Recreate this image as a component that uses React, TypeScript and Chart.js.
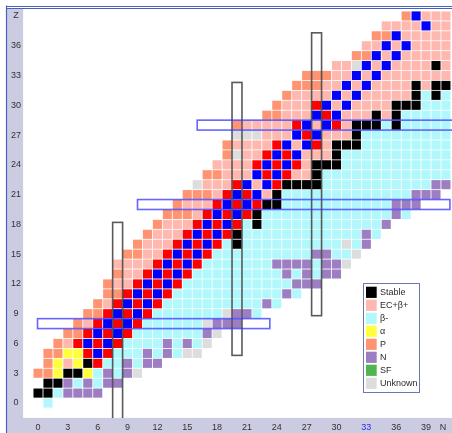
import React, { useEffect, useRef } from "react";
import { Chart, registerables } from "chart.js";

Chart.register(...registerables);

// ---- data ----
// Row index = Z (proton number). ROW_FIRST_N[Z] is the N of the first cell in that row,
// ROW_CODES[Z] holds one decay-mode code per cell, for N = first, first+1, ...
// S stable, E EC+β+, B β-, A α, P proton, N neutron, F SF, U unknown,
// R / L = highlighted (red / blue) cells.
const ROW_FIRST_N = [
  1, 0, 1, 0, 1, 1, 2, 3, 4, 5,
  6, 7, 7, 8, 8, 9, 10, 11, 12, 13,
  14, 15, 16, 17, 18, 19, 19, 20, 20, 23,
  24, 25, 26, 27, 30, 32, 33, 34, 35, 37,
];
const ROW_CODES = [
  "B",
  "SSBNNNN",
  "SSNBNBNN",
  "PPASSABNBNU",
  "PAEASRBBNBNN",
  "PPAARLRBBBNBNBUU",
  "PERLRLRBBBBNBNBU",
  "PPRLRLRBBBBBBBNU",
  "PERLRLRBBBBBBUNNN",
  "PPRLRLRBBBBBBBUNNB",
  "PERLRLRBBBBBBBBBBNB",
  "PPRLRLRBBBBBBBBBBBNB",
  "PEERLRLRBBBBBBBBBBBNNN",
  "PEERLRLRBBBBBBBBBNBNBNN",
  "EEEERLRLRBBBBBBBNNNNBNNU",
  "PPEERLRLRBBBBBBBBBBNNBBU",
  "PEEERLRLRBSBBBBBBBBBBUBN",
  "PEEERLRLRSBBBBBBBBBBBBNB",
  "PEEERLRLRBSBBBBBBBBBBBBN",
  "PPPERLRLRSBBBBBBBBBBBBBNB",
  "PEEERLRLRSSBBBBBBBBBBBNNN",
  "PPPERLRLESBBBBBBBBBBBBBNNN",
  "UEEERLELRSSSSBBBBBBBBBBBNN",
  "PPEEELRLREESBBBBBBBBBBBBB",
  "EEEERLRLRESSSBBBBBBBBBBB",
  "PUEERLRLEEESBBBBBBBBBBB",
  "PEEEERLELRESSSBBBBBBBBB",
  "UUUEEELRLEEESBBBBBBBBB",
  "PEEEEERLELRESSSBSBBBBB",
  "PPEEELRLEEESESBBBBB",
  "PEEERLELEEEESSSBBB",
  "PEEEELELEEEEESBSB",
  "PPPEELELEEEESESS",
  "PPPEELELEEEEEEE",
  "EEULELEEEESE",
  "PPLELEEEEE",
  "EELELEEEE",
  "PPLEEEEE",
  "EEEELEE",
  "PLEEE",
];

const LEGEND_LABELS = ["Stable", "EC+β+", "β-", "α", "P", "N", "SF", "Unknown"];
const LEGEND_CODES = ["S", "E", "B", "A", "P", "N", "F", "U"];
const LEGEND_COLORS = ["#000000", "#ffb8b0", "#b0f8fc", "#ffff3c", "#ff9472", "#9e7ec2", "#50b450", "#dddddd"];
const MARK_LABELS = ["even A", "odd A"];
const MARK_CODES = ["R", "L"];
const MARK_COLORS = ["#ff0000", "#0000ff"];

const X_TICKS = [0, 3, 6, 9, 12, 15, 18, 21, 24, 27, 30, 33, 36, 39];
const X_NAME = "N";
const X_NAME_AT = 40.7;
const X_TICK_HIGHLIGHT = 33;
const Y_TICKS = [0, 3, 6, 9, 12, 15, 18, 21, 24, 27, 30, 33, 36];
const Y_NAME = "Z";
const Y_NAME_AT = 39;

// magic-number frames: rows (fixed Z, N range) and columns (fixed N, Z range)
const MAGIC_ROW_Z = [8, 20, 28];
const MAGIC_ROW_FROM_N = [-0.05, 10, 16];
const MAGIC_ROW_TO_N = [23.3, 41.4, 42];
const MAGIC_COL_N = [8, 20, 28];
const MAGIC_COL_FROM_Z = [-1.6, 4.8, 8.8];
const MAGIC_COL_TO_Z = [18.2, 32.3, 37.3];

function pointsFor(code: string) {
  const pts: { x: number; y: number }[] = [];
  ROW_CODES.forEach((row, z) => {
    for (let i = 0; i < row.length; i++) {
      if (row[i] === code) pts.push({ x: ROW_FIRST_N[z] + i, y: z });
    }
  });
  return pts;
}

const FONT = "'Liberation Sans', Arial, sans-serif";

const decorPlugin = {
  id: "decor",
  beforeDraw(chart: any) {
    const { ctx, chartArea: ca, width, height } = chart;
    ctx.save();
    ctx.fillStyle = "#ffffff";
    ctx.fillRect(0, 0, width, height);
    ctx.fillStyle = "#cbcbe1";
    ctx.fillRect(7, 9, ca.left - 7, height - 9);
    ctx.fillRect(7, ca.bottom, width - 7, height - ca.bottom);
    ctx.strokeStyle = "#4663bd";
    ctx.lineWidth = 1.2;
    ctx.beginPath();
    ctx.moveTo(6.5, 5.5);
    ctx.lineTo(6.5, height);
    ctx.stroke();
    ctx.lineWidth = 1;
    ctx.beginPath();
    ctx.moveTo(6, 6.5);
    ctx.lineTo(width, 6.5);
    ctx.moveTo(6, 8.5);
    ctx.lineTo(width, 8.5);
    ctx.stroke();
    ctx.restore();
  },
  afterDatasetsDraw(chart: any) {
    const { ctx, chartArea: ca, scales } = chart;
    const xs = scales.x;
    const ys = scales.y;
    ctx.save();
    ctx.beginPath();
    ctx.rect(ca.left, ca.top, chart.width - ca.left, ca.bottom - ca.top);
    ctx.clip();
    ctx.lineWidth = 1.6;
    ctx.strokeStyle = "rgba(60,60,60,0.85)";
    MAGIC_COL_N.forEach((n, i) => {
      const x0 = xs.getPixelForValue(n - 0.5);
      const x1 = xs.getPixelForValue(n + 0.5);
      const y0 = ys.getPixelForValue(MAGIC_COL_TO_Z[i]);
      const y1 = ys.getPixelForValue(MAGIC_COL_FROM_Z[i]);
      ctx.strokeRect(x0, y0, x1 - x0, y1 - y0);
    });
    ctx.strokeStyle = "rgba(50,50,255,0.75)";
    MAGIC_ROW_Z.forEach((z, i) => {
      const x0 = xs.getPixelForValue(MAGIC_ROW_FROM_N[i]);
      const x1 = xs.getPixelForValue(MAGIC_ROW_TO_N[i]);
      const y0 = ys.getPixelForValue(z + 0.5);
      const y1 = ys.getPixelForValue(z - 0.5);
      ctx.strokeRect(x0, y0, x1 - x0, y1 - y0);
    });
    ctx.restore();
  },
  afterDraw(chart: any) {
    const { ctx } = chart;
    const left = 363.5;
    const top = 283.5;
    const step = 13;
    ctx.save();
    ctx.fillStyle = "#ffffff";
    ctx.fillRect(left, top, 56, 109);
    ctx.strokeStyle = "#6b77b5";
    ctx.lineWidth = 1;
    ctx.strokeRect(left, top, 56, 109);
    ctx.font = "9px " + FONT;
    ctx.textBaseline = "middle";
    ctx.textAlign = "left";
    LEGEND_LABELS.forEach((label, i) => {
      ctx.fillStyle = LEGEND_COLORS[i];
      ctx.fillRect(366, 286.7 + i * step, 10.7, 11.2);
      ctx.fillStyle = "#2a2a2a";
      ctx.fillText(label, 380, 292.6 + i * step);
    });
    ctx.restore();
  },
};

export default function App() {
  const ref = useRef<HTMLCanvasElement | null>(null);

  useEffect(() => {
    document.body.style.margin = "0";
    const canvas = ref.current;
    if (!canvas) return;

    const cellRadius = (c: any) => {
      const s = c.chart.scales.x;
      const pitch = Math.abs(s.getPixelForValue(1) - s.getPixelForValue(0));
      return (pitch * 0.915) / Math.SQRT2;
    };

    const datasets = [
      ...LEGEND_CODES.map((code, i) => ({ label: LEGEND_LABELS[i], code, color: LEGEND_COLORS[i] })),
      ...MARK_CODES.map((code, i) => ({ label: MARK_LABELS[i], code, color: MARK_COLORS[i] })),
    ].map((d) => ({
      label: d.label,
      data: pointsFor(d.code),
      backgroundColor: d.color,
      borderWidth: 0,
      pointStyle: "rect" as const,
      pointRadius: cellRadius,
      pointHoverRadius: cellRadius,
      pointBorderWidth: 0,
    }));

    const chart = new Chart(canvas, {
      type: "scatter",
      data: { datasets },
      options: {
        responsive: false,
        devicePixelRatio: 1,
        animation: false,
        events: [],
        layout: { padding: { top: 9, right: 1.1, left: 0, bottom: 0 } },
        plugins: { legend: { display: false }, tooltip: { enabled: false } },
        scales: {
          x: {
            type: "linear",
            position: "bottom",
            min: -1.5,
            max: 41.5,
            grid: { display: false, drawTicks: false },
            border: { display: false },
            afterBuildTicks: (scale: any) => {
              scale.ticks = [...X_TICKS.map((v) => ({ value: v })), { value: X_NAME_AT }];
            },
            afterFit: (scale: any) => {
              scale.height = 15.1;
            },
            ticks: {
              autoSkip: false,
              maxRotation: 0,
              padding: 4.5,
              font: { size: 9, family: FONT },
              color: (c: any) => (c.tick && c.tick.value === X_TICK_HIGHLIGHT ? "#2b2bf0" : "#333333"),
              callback: (v: any) => (v === X_NAME_AT ? X_NAME : String(v)),
            },
          },
          y: {
            type: "linear",
            position: "left",
            min: -1.5,
            max: 39.7,
            grid: { display: false, drawTicks: false },
            border: { display: false },
            afterBuildTicks: (scale: any) => {
              scale.ticks = [...Y_TICKS.map((v) => ({ value: v })), { value: Y_NAME_AT }];
            },
            afterFit: (scale: any) => {
              scale.width = 23.1;
            },
            ticks: {
              autoSkip: false,
              padding: 2.2,
              crossAlign: "center",
              font: { size: 9, family: FONT },
              color: "#333333",
              callback: (v: any) => (v === Y_NAME_AT ? Y_NAME : String(v)),
            },
          },
        },
      },
      plugins: [decorPlugin],
    });

    return () => chart.destroy();
  }, []);

  return (
    <canvas
      ref={ref}
      width={452}
      height={433}
      style={{ display: "block", width: "452px", height: "433px" }}
    />
  );
}
